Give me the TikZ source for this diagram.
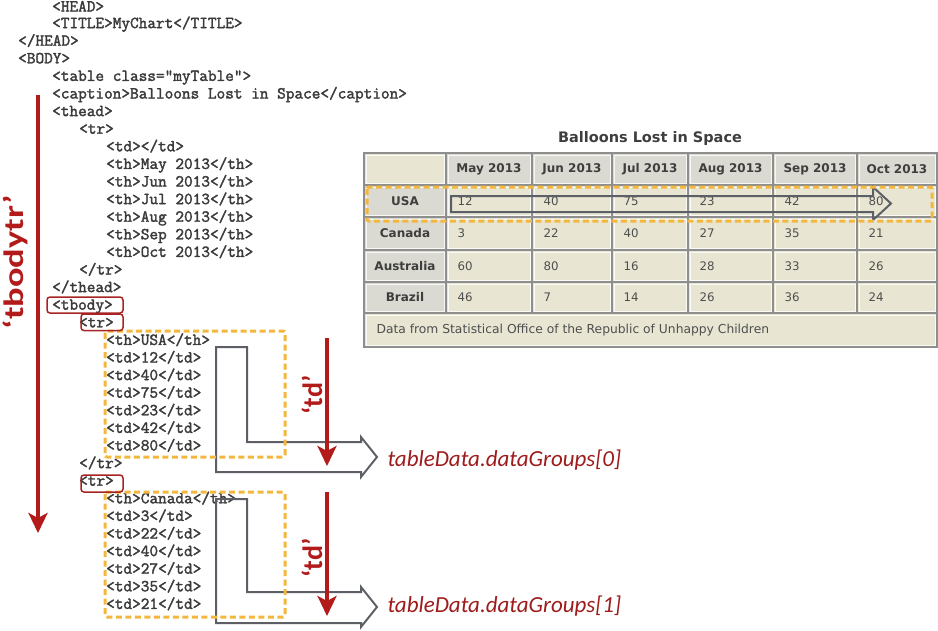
\documentclass[tikz,border=0pt]{standalone}
\usepackage{fontspec}
\usepackage{tikz}
\usetikzlibrary{arrows.meta}

\newfontfamily\codefont[FakeBold=2]{Latin Modern Mono}
\newfontfamily\tabfont{DejaVu Sans}
\newfontfamily\labfont{Carlito}

\definecolor{codegray}{HTML}{3A3A3A}
\definecolor{boxred}{HTML}{A82424}
\definecolor{redline}{HTML}{B31B1B}
\definecolor{groupred}{HTML}{9E1C1C}
\definecolor{dashorange}{HTML}{F3B73E}
\definecolor{arrowgray}{HTML}{5C5F66}
\definecolor{cellbeige}{HTML}{E8E6D3}
\definecolor{headgray}{HTML}{DADAD2}
\definecolor{gridgray}{HTML}{8E8E8E}
\definecolor{titlegray}{HTML}{3E3E3E}
\definecolor{celltext}{HTML}{4E4E4E}

\tikzset{
  code/.style={font=\codefont\fontsize{16.8}{18}\selectfont, text=codegray,
    anchor=west, inner sep=0pt, text height=10pt, text depth=1pt},
  headtxt/.style={font=\tabfont\bfseries\fontsize{12}{14}\selectfont, text=titlegray},
  celltxt/.style={font=\tabfont\fontsize{11.8}{14}\selectfont, text=celltext, anchor=west},
  redbox/.style={draw=boxred, line width=1.5pt, rounded corners=3pt},
  dashbox/.style={draw=dashorange, line width=3pt, dash pattern=on 6pt off 3.5pt, rounded corners=2pt},
  greyarrow/.style={draw=arrowgray, line width=2pt},
  redarrow/.style={draw=redline, line width=3.5pt, -{Stealth[length=20pt,width=19pt,inset=5pt]}},
  redlabel/.style={font=\labfont\bfseries\fontsize{28}{30}\selectfont, text=redline, rotate=90},
  grouplabel/.style={font=\labfont\itshape\fontsize{23}{26}\selectfont, text=groupred, anchor=west},
}

\begin{document}
\begin{tikzpicture}[x=1pt,y=-1pt]
\useasboundingbox (0,0) rectangle (938,630);
\fill[white] (0,0) rectangle (938,630);

% html source
\node[code] (head) at (52,7) {<HEAD>};
\node[code] (title) at (52,23.6) {<TITLE>MyChart</TITLE>};
\node[code] (headend) at (18,41.2) {</HEAD>};
\node[code] (body) at (18,58.8) {<BODY>};
\node[code] (tab) at (52,76.4) {<table class="myTable">};
\node[code] (capt) at (52,94) {<caption>Balloons Lost in Space</caption>};
\node[code] (thead) at (52,111.6) {<thead>};
\node[code] (htr) at (79,129.2) {<tr>};
\node[code] (hnone) at (106,146.8) {<td></td>};
\foreach \m [count=\i] in {May,Jun,Jul,Aug,Sep,Oct}
  \node[code] (hm\i) at (106,146.8+17.6*\i) {<th>\m\ 2013</th>};
\node[code] (htrend) at (79,270) {</tr>};
\node[code] (theadend) at (52,287.6) {</thead>};
\node[code] (tbody) at (52,305.2) {<tbody>};
\node[code] (tr1) at (79,322.8) {<tr>};
\node[code] (th1) at (106,340.4) {<th>USA</th>};
\foreach \v [count=\i] in {12,40,75,23,42,80}
  \node[code] (u\i) at (106,340.4+17.6*\i) {<td>\v</td>};
\node[code] (trend1) at (79,463.6) {</tr>};
\node[code] (tr2) at (79,481.2) {<tr>};
\node[code] (th2) at (106,498.8) {<th>Canada</th>};
\foreach \v [count=\i] in {3,22,40,27,35,21}
  \node[code] (c\i) at (106,498.8+17.6*\i) {<td>\v</td>};

% rendered table
\node[font=\tabfont\bfseries\fontsize{14.5}{16}\selectfont, text=titlegray] (tcap) at (650,138) {Balloons Lost in Space};
\fill[cellbeige] (364,153) rectangle (937,347);
\fill[headgray] (446,153) rectangle (937,185);
\fill[headgray] (364,185) rectangle (446,313);
\foreach \xa/\xb in {364/446,446/532,532/612,612/688,688/773,773/857,857/937}
  \foreach \ya/\yb in {153/185,185/217,217/250,250/282,282/313}
    \draw[white, line width=0.8pt, opacity=0.8] (\xa+2,\ya+2) rectangle (\xb-2,\yb-2);
\draw[white, line width=0.8pt, opacity=0.8] (366,315) rectangle (935,345);
\foreach \x in {446,532,612,688,773,857}
  \draw[gridgray, line width=1.5pt] (\x,153) -- (\x,313);
\foreach \y in {185,217,250,282,313}
  \draw[gridgray, line width=1.5pt] (364,\y) -- (937,\y);
\draw[gridgray, line width=1.5pt] (364,153) rectangle (937,347);

\foreach \m/\x [count=\i] in {May/489,Jun/572,Jul/650,Aug/730.5,Sep/815,Oct/897}
  \node[headtxt] (mon\i) at (\x,169) {\m\ 2013};
\foreach \c/\y in {USA/201,Canada/233.5,Australia/266,Brazil/297.5}
  \node[headtxt] (\c) at (405,\y) {\c};
\foreach \vals/\y [count=\r] in {{12,40,75,23,42,80}/201,{3,22,40,27,35,21}/233.5,
    {60,80,16,28,33,26}/266,{46,7,14,26,36,24}/297.5}
  \foreach \v [count=\k from 0] in \vals {
    \pgfmathsetmacro\cx{{446,532,612,688,773,857}[\k]+8}
    \node[celltxt] (v\r\k) at (\cx,\y) {\v};
  }
\node[celltxt, font=\tabfont\fontsize{12.3}{14}\selectfont] (note) at (373,330) {Data from Statistical Office of the Republic of Unhappy Children};

% row arrow in the table
\draw[greyarrow] (451,196) -- (873,196) -- (873,187) -- (891,203.5) -- (873,220) -- (873,212) -- (451,212) -- cycle;
\draw[dashbox] (367,187) rectangle (932,221);

% bent arrows to the data groups
\draw[greyarrow] (216,347) -- (247,347) -- (247,442) -- (361,442) -- (361,437) -- (377,457)
  -- (361,477) -- (361,472) -- (216,472) -- cycle;
\draw[greyarrow] (216,499) -- (247,499) -- (247,592) -- (361,592) -- (361,587) -- (377,607)
  -- (361,627) -- (361,623) -- (216,623) -- cycle;
\node[grouplabel] (dg0) at (384,460) {tableData.dataGroups[0]};
\node[grouplabel] (dg1) at (384,606) {tableData.dataGroups[1]};

% selections
\draw[dashbox] (105,331) rectangle (285,457);
\draw[dashbox] (105,492) rectangle (285,617);
\draw[redbox] (47,297) rectangle (123,313);
\draw[redbox] (81,314) rectangle (123,330.5);
\draw[redbox] (81,475) rectangle (123,492);

% traversal arrows
\coordinate (tbtop) at (38,95);
\coordinate (tbend) at (38,533);
\draw[redarrow, line width=4pt] (tbtop) -- (tbend);
\node[redlabel, xscale=1.3] (tbodytr) at (15,262) {‘tbodytr’};
\coordinate (td1top) at (327,338);
\coordinate (td1end) at (327,466);
\draw[redarrow] (td1top) -- (td1end);
\node[redlabel] (td1) at (312,395) {‘td’};
\coordinate (td2top) at (327,492);
\coordinate (td2end) at (327,616);
\draw[redarrow] (td2top) -- (td2end);
\node[redlabel] (td2) at (312,558) {‘td’};
\end{tikzpicture}
\end{document}
